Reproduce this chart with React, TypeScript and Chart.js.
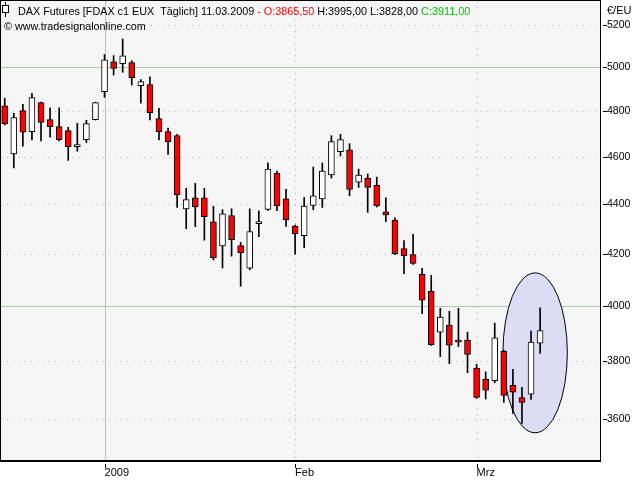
import React, { useEffect, useRef } from "react";
import { Chart, registerables } from "chart.js";

Chart.register(...registerables);

// ---- data ----
const dates = [
  "11.12.2008", "12.12.2008", "15.12.2008", "16.12.2008", "17.12.2008", "18.12.2008",
  "19.12.2008", "22.12.2008", "23.12.2008", "29.12.2008", "30.12.2008",
  "02.01.2009", "05.01.2009", "06.01.2009", "07.01.2009", "08.01.2009", "09.01.2009",
  "12.01.2009", "13.01.2009", "14.01.2009", "15.01.2009", "16.01.2009",
  "19.01.2009", "20.01.2009", "21.01.2009", "22.01.2009", "23.01.2009",
  "26.01.2009", "27.01.2009", "28.01.2009", "29.01.2009", "30.01.2009",
  "02.02.2009", "03.02.2009", "04.02.2009", "05.02.2009", "06.02.2009",
  "09.02.2009", "10.02.2009", "11.02.2009", "12.02.2009", "13.02.2009",
  "16.02.2009", "17.02.2009", "18.02.2009", "19.02.2009", "20.02.2009",
  "23.02.2009", "24.02.2009", "25.02.2009", "26.02.2009", "27.02.2009",
  "02.03.2009", "03.03.2009", "04.03.2009", "05.03.2009", "06.03.2009",
  "09.03.2009", "10.03.2009", "11.03.2009",
];
const opens = [
  4823, 4612, 4802, 4709, 4838, 4762, 4731, 4713, 4643, 4674, 4762,
  4888, 5026, 5017, 5022, 4915, 4920, 4766, 4709, 4691, 4381, 4427, 4427, 4329, 4232, 4354, 4234, 4145, 4321, 4379, 4529,
  4422, 4311, 4273, 4395, 4422, 4522, 4621, 4629, 4492, 4509, 4479, 4369, 4336, 4222, 4198, 4122, 4057, 3905, 3931, 3876,
  3876, 3776, 3737, 3732, 3836, 3716, 3674, 3685, 3865.5,
];
const highs = [
  4858, 4790, 4830, 4880, 4840, 4815, 4815, 4728, 4746, 4759, 4840,
  5060, 5055, 5134, 5031, 4943, 4956, 4812, 4724, 4697, 4466, 4487, 4466, 4392, 4378, 4382, 4246, 4381, 4373, 4574, 4539,
  4462, 4315, 4428, 4556, 4573, 4691, 4697, 4656, 4547, 4526, 4513, 4427, 4345, 4253, 4278, 4145, 4118, 3993, 3982, 3993,
  3905, 3790, 3763, 3938, 3840, 3772, 3709, 3909, 3995,
];
const lows = [
  4738, 4552, 4645, 4672, 4668, 4685, 4668, 4584, 4623, 4661, 4760,
  4862, 4964, 4977, 4918, 4836, 4760, 4672, 4610, 4387, 4301, 4309, 4255, 4177, 4146, 4192, 4076, 4139, 4269, 4375, 4374,
  4310, 4200, 4225, 4378, 4387, 4509, 4603, 4435, 4470, 4367, 4389, 4329, 4198, 4124, 4160, 3973, 3857, 3817, 3792, 3853,
  3760, 3671, 3669, 3725, 3657, 3620, 3586, 3667, 3828,
];
const closes = [
  4743, 4771, 4706, 4861, 4749, 4731, 4674, 4643, 4652, 4744, 4838,
  5035, 4995, 5054, 4952, 4934, 4793, 4709, 4665, 4439, 4419, 4389, 4349, 4186, 4361, 4257, 4206, 4289, 4330, 4547, 4393,
  4337, 4280, 4393, 4435, 4538, 4665, 4674, 4461, 4522, 4470, 4393, 4357, 4202, 4194, 4164, 4023, 3860, 3960, 3858, 3869,
  3825, 3674, 3699, 3884, 3681, 3692, 3657, 3869, 3911,
];

const yTicks = [3600, 3800, 4000, 4200, 4400, 4600, 4800, 5000, 5200];
const yMajorTicks = [4000, 5000];
const xTickIndex = [11, 32, 52];
const xTickText = ["2009", "Feb", "Mrz"];
const xMajorIndex = [11];

const titleParts: [string, string][] = [
  ["DAX Futures [FDAX c1 EUX  Täglich] 11.03.2009 ", "#000000"],
  ["- O:3865,50 ", "#ff0000"],
  ["H:3995,00 L:3828,00 ", "#000000"],
  ["C:3911,00", "#00c000"],
];
const copyright = "© www.tradesignalonline.com";
const unitLabel = "€/EU";

// highlighted region (index range and price range)
const ellipseIdx = [54.9, 62.0];
const ellipsePrice = [3555, 4127];

const FONT = '"Liberation Sans", Arial, sans-serif';

const decorPlugin = {
  id: "decor",
  beforeDraw(chart: any) {
    const { ctx, chartArea: a } = chart;
    ctx.save();
    ctx.fillStyle = "#ffffff";
    ctx.fillRect(0, 0, chart.width, chart.height);
    ctx.fillStyle = "#f5f5f5";
    ctx.fillRect(a.left, a.top, a.right - a.left, a.bottom - a.top);
    ctx.restore();
  },
  beforeDatasetsDraw(chart: any) {
    const { ctx, chartArea: a } = chart;
    const xs = chart.scales.x;
    const ys = chart.scales.y;
    ctx.save();
    ctx.lineWidth = 1;
    // horizontal grid
    yTicks.forEach((v) => {
      const py = Math.round(ys.getPixelForValue(v)) + 0.5;
      const major = yMajorTicks.includes(v);
      ctx.strokeStyle = major ? "#b2c9ae" : "#aab4aa";
      ctx.setLineDash(major ? [] : [1, 5]);
      ctx.beginPath();
      ctx.moveTo(a.left, py);
      ctx.lineTo(a.right, py);
      ctx.stroke();
    });
    // vertical grid
    xTickIndex.forEach((v) => {
      const px = Math.round(xs.getPixelForValue(v)) + 0.5;
      const major = xMajorIndex.includes(v);
      ctx.strokeStyle = major ? "#b2c9ae" : "#aab4aa";
      ctx.setLineDash(major ? [] : [1, 5]);
      ctx.beginPath();
      ctx.moveTo(px, a.top);
      ctx.lineTo(px, a.bottom);
      ctx.stroke();
    });
    ctx.setLineDash([]);
    // ellipse
    const x0 = xs.getPixelForValue(ellipseIdx[0]);
    const x1 = xs.getPixelForValue(ellipseIdx[1]);
    const y0 = ys.getPixelForValue(ellipsePrice[1]);
    const y1 = ys.getPixelForValue(ellipsePrice[0]);
    ctx.beginPath();
    ctx.ellipse((x0 + x1) / 2, (y0 + y1) / 2, (x1 - x0) / 2, (y1 - y0) / 2, 0, 0, Math.PI * 2);
    ctx.fillStyle = "#dcdcf5";
    ctx.fill();
    ctx.strokeStyle = "#000000";
    ctx.lineWidth = 1;
    ctx.stroke();
    ctx.restore();
  },
  afterDatasetsDraw(chart: any) {
    const { ctx, chartArea: a } = chart;
    const xs = chart.scales.x;
    const ys = chart.scales.y;
    ctx.save();
    // frame
    ctx.strokeStyle = "#000";
    ctx.lineWidth = 1;
    ctx.strokeRect(a.left - 0.5, a.top - 0.5, a.right - a.left + 1, a.bottom - a.top + 1);
    ctx.beginPath();
    ctx.moveTo(a.left - 1, a.bottom + 1.5);
    ctx.lineTo(a.right + 1, a.bottom + 1.5);
    ctx.stroke();
    // tick marks
    yTicks.forEach((v) => {
      const py = Math.round(ys.getPixelForValue(v)) + 0.5;
      ctx.beginPath();
      ctx.moveTo(a.right + 3, py);
      ctx.lineTo(a.right + 7, py);
      ctx.stroke();
    });
    xTickIndex.forEach((v) => {
      const px = Math.round(xs.getPixelForValue(v)) + 0.5;
      ctx.beginPath();
      ctx.moveTo(px, a.bottom + 4);
      ctx.lineTo(px, a.bottom + 8);
      ctx.stroke();
    });
    // header icon
    ctx.beginPath();
    ctx.moveTo(5.5, 2);
    ctx.lineTo(5.5, 17);
    ctx.stroke();
    ctx.fillStyle = "#fff";
    ctx.fillRect(3, 6, 5, 6);
    ctx.strokeRect(2.5, 5.5, 6, 7);
    // header text
    ctx.font = `10.8px ${FONT}`;
    ctx.textBaseline = "alphabetic";
    ctx.textAlign = "left";
    let tx = 18;
    titleParts.forEach(([t, c]) => {
      ctx.fillStyle = c;
      ctx.fillText(t, tx, 15);
      tx += ctx.measureText(t).width;
    });
    ctx.fillStyle = "#000";
    ctx.fillText(copyright, 4, 30);
    ctx.font = `11px ${FONT}`;
    ctx.fillText(unitLabel, a.right + 7, 14);
    ctx.restore();
  },
};

const n = dates.length;
const bodyData = dates.map((d, i) => ({ x: i, y: [opens[i], closes[i]], date: d }));
const wickData = dates.map((d, i) => ({ x: i, y: [lows[i], highs[i]], date: d }));
const bodyColors = dates.map((_, i) => (closes[i] < opens[i] ? "#ff0000" : "#ffffff"));

export default function App() {
  const ref = useRef<HTMLCanvasElement | null>(null);
  useEffect(() => {
    if (!ref.current) return;
    const chart = new Chart(ref.current, {
      type: "bar",
      data: {
        datasets: [
          {
            label: "body",
            data: bodyData as any,
            backgroundColor: bodyColors,
            borderColor: "#000000",
            borderWidth: 1,
            borderSkipped: false,
            barThickness: 6,
            grouped: false,
            order: 0,
          },
          {
            label: "wick",
            data: wickData as any,
            backgroundColor: "#000000",
            borderWidth: 0,
            barThickness: 1,
            grouped: false,
            order: 1,
          },
        ],
      },
      options: {
        animation: false,
        responsive: false,
        devicePixelRatio: 1,
        layout: { padding: { left: 1, top: 1, right: 0, bottom: 0 } },
        plugins: { legend: { display: false }, tooltip: { enabled: false } },
        scales: {
          x: {
            type: "linear",
            offset: false,
            min: -0.41,
            max: n - 1 + 6.6,
            grid: { display: false, drawTicks: false },
            border: { display: false },
            afterBuildTicks: (s: any) => {
              s.ticks = xTickIndex.map((v) => ({ value: v }));
            },
            afterFit: (s: any) => {
              s.height = 20;
              s.paddingLeft = 0;
              s.paddingRight = 0;
            },
            ticks: {
              autoSkip: false,
              maxRotation: 0,
              align: "start",
              padding: 6,
              color: "#000",
              font: { family: FONT, size: 11 },
              callback: (v: any) => {
                const k = xTickIndex.indexOf(Number(v));
                return k >= 0 ? xTickText[k] : "";
              },
            },
          },
          y: {
            type: "logarithmic",
            position: "right",
            min: 3465.8,
            max: 5319.3,
            grid: { display: false, drawTicks: false },
            border: { display: false },
            afterBuildTicks: (s: any) => {
              s.ticks = yTicks.map((v) => ({ value: v }));
            },
            afterFit: (s: any) => {
              s.width = 40;
              s.paddingTop = 0;
              s.paddingBottom = 0;
            },
            ticks: {
              autoSkip: false,
              padding: 7,
              color: "#000",
              font: { family: FONT, size: 10.5 },
              callback: (v: any) => String(v),
            },
          },
        },
      },
      plugins: [decorPlugin],
    } as any);
    return () => chart.destroy();
  }, []);
  return (
    <div style={{ position: "fixed", left: 0, top: 0, width: 640, height: 480, background: "#fff" }}>
      <canvas ref={ref} width={640} height={480} style={{ display: "block", width: 640, height: 480 }} />
    </div>
  );
}
